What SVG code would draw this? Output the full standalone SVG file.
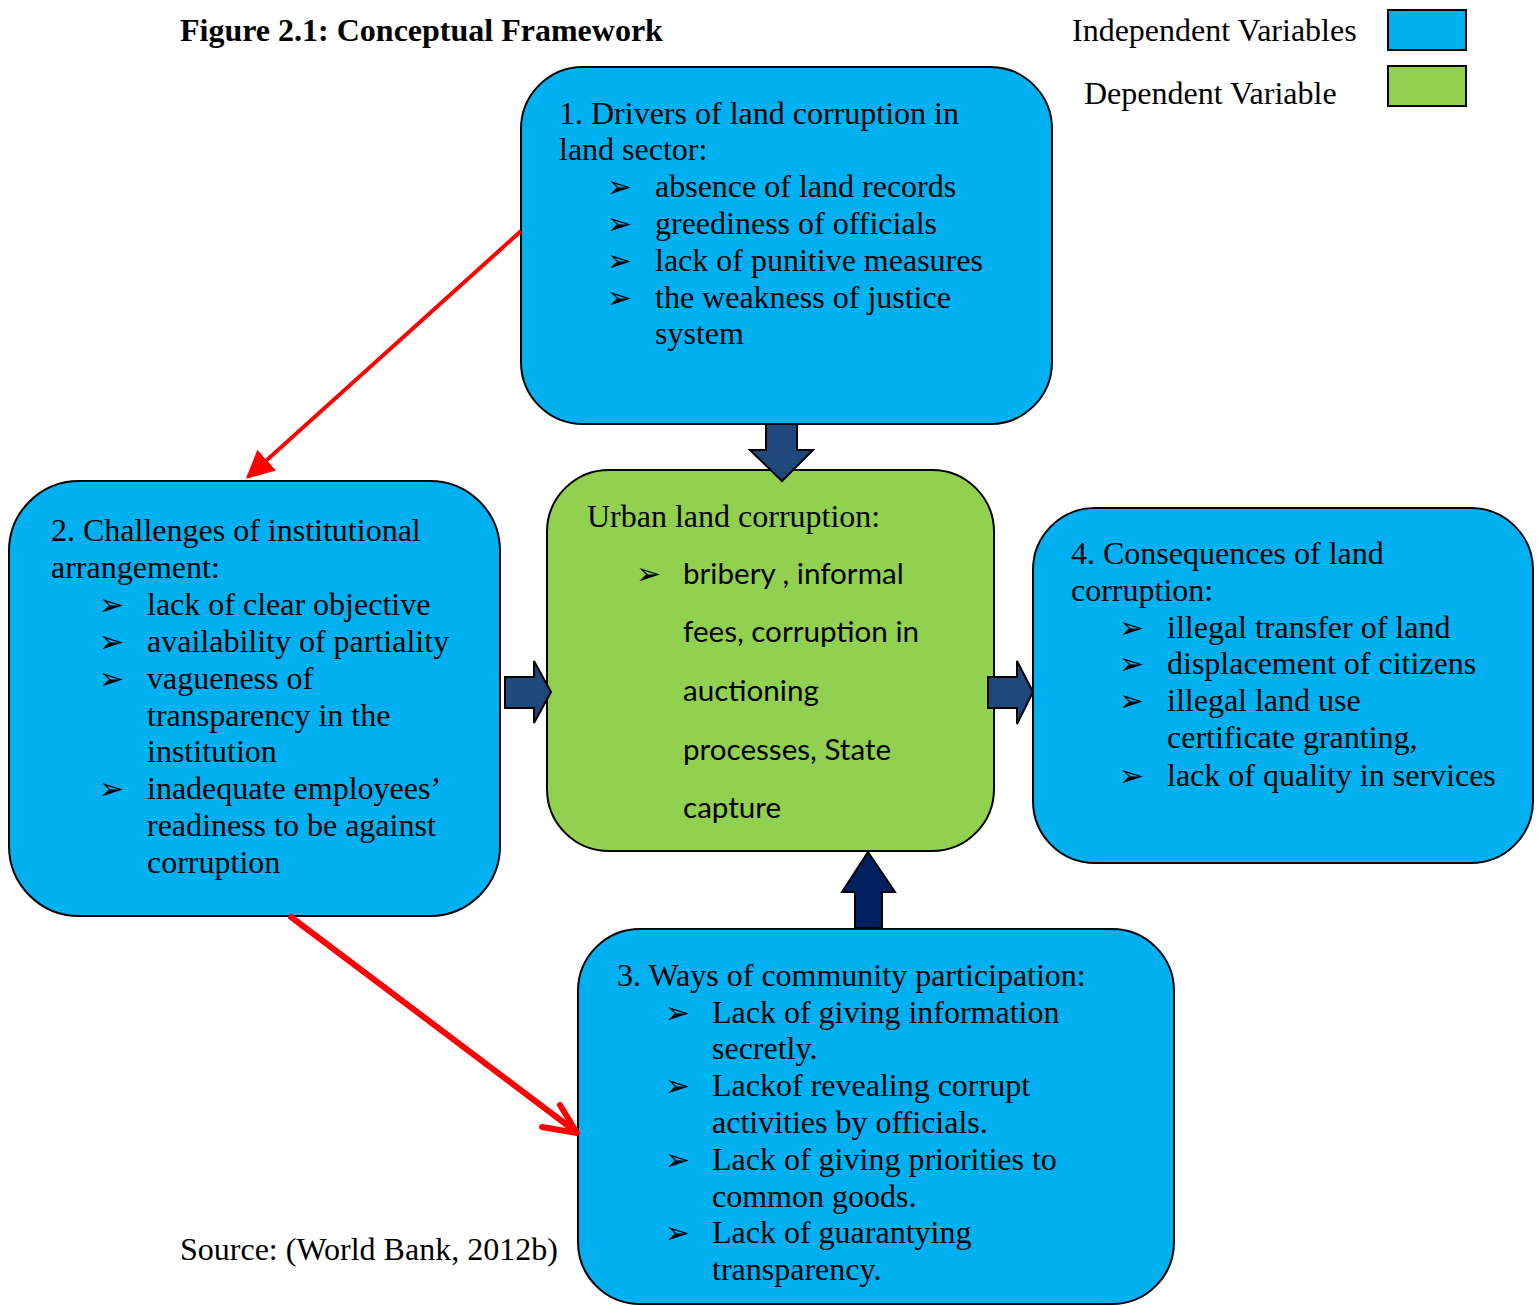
<svg xmlns="http://www.w3.org/2000/svg" width="1537" height="1306" viewBox="0 0 1537 1306">
<style>
.t{font-family:"Liberation Serif","Times New Roman",serif;font-size:32px;fill:#000}
.b{font-family:"DejaVu Sans",sans-serif;font-size:30px;fill:#000}
.c{font-family:Lato,"Open Sans",sans-serif;font-size:29.6px;fill:#000}
.blue{fill:#00B0F0;stroke:#000;stroke-width:2}
.green{fill:#92D050;stroke:#000;stroke-width:2}
</style>
<defs>
<marker id="tri" viewBox="0 0 10 10" refX="9" refY="5" markerWidth="7" markerHeight="7" markerUnits="strokeWidth" orient="auto">
<path d="M0,0 L10,5 L0,10 z" fill="#FF0000"/>
</marker>
</defs>
<rect width="1537" height="1306" fill="#fff"/>
<text class="t" x="180" y="41" font-weight="bold">Figure 2.1: Conceptual Framework</text>
<g id="legend">
<text class="t" x="1072" y="41">Independent Variables</text>
<rect class="blue" x="1388" y="10" width="78" height="40"/>
<text class="t" x="1084" y="104">Dependent Variable</text>
<rect class="green" x="1388" y="66" width="78" height="40"/>
</g>
<g id="node1">
<rect class="blue" x="521" y="67" width="531" height="357" rx="62"/>
<text class="t" x="559" y="124">1. Drivers of land corruption in</text>
<text class="t" x="559" y="160">land sector:</text>
<text class="b" x="607" y="197">➢</text><text class="t" x="655" y="197">absence of land records</text>
<text class="b" x="607" y="234">➢</text><text class="t" x="655" y="234">greediness of officials</text>
<text class="b" x="607" y="271">➢</text><text class="t" x="655" y="271">lack of punitive measures</text>
<text class="b" x="607" y="308">➢</text><text class="t" x="655" y="308">the weakness of justice</text>
<text class="t" x="655" y="344">system</text>
</g>
<g id="node2">
<rect class="blue" x="9" y="481" width="491" height="435" rx="70"/>
<text class="t" x="51" y="541">2. Challenges of institutional</text>
<text class="t" x="51" y="578">arrangement:</text>
<text class="b" x="99" y="615">➢</text><text class="t" x="147" y="615">lack of clear objective</text>
<text class="b" x="99" y="652">➢</text><text class="t" x="147" y="652">availability of partiality</text>
<text class="b" x="99" y="689">➢</text><text class="t" x="147" y="689">vagueness of</text>
<text class="t" x="147" y="726">transparency in the</text>
<text class="t" x="147" y="762">institution</text>
<text class="b" x="99" y="799">➢</text><text class="t" x="147" y="799">inadequate employees’</text>
<text class="t" x="147" y="836">readiness to be against</text>
<text class="t" x="147" y="873">corruption</text>
</g>
<g id="node0">
<rect class="green" x="547" y="470" width="447" height="381" rx="62"/>
<text class="t" x="587" y="527">Urban land corruption:</text>
<text class="b" x="636" y="584">➢</text>
<text class="c" x="683" y="584">bribery , informal</text>
<text class="c" x="683" y="642">fees, corruption in</text>
<text class="c" x="683" y="701">auctioning</text>
<text class="c" x="683" y="760">processes, State</text>
<text class="c" x="683" y="818">capture</text>
</g>
<g id="node4">
<rect class="blue" x="1033" y="508" width="500" height="355" rx="62"/>
<text class="t" x="1071" y="564">4. Consequences of land</text>
<text class="t" x="1071" y="601">corruption:</text>
<text class="b" x="1119" y="638">➢</text><text class="t" x="1167" y="638">illegal transfer of land</text>
<text class="b" x="1119" y="674">➢</text><text class="t" x="1167" y="674">displacement of citizens</text>
<text class="b" x="1119" y="711">➢</text><text class="t" x="1167" y="711">illegal land use</text>
<text class="t" x="1167" y="748">certificate granting,</text>
<text class="b" x="1119" y="786">➢</text><text class="t" x="1167" y="786">lack of quality in services</text>
</g>
<g id="node3">
<rect class="blue" x="578" y="929" width="596" height="375" rx="62"/>
<text class="t" x="617" y="986">3. Ways of community participation:</text>
<text class="b" x="665" y="1023">➢</text><text class="t" x="712" y="1023">Lack of giving information</text>
<text class="t" x="712" y="1059">secretly.</text>
<text class="b" x="665" y="1096">➢</text><text class="t" x="712" y="1096">Lackof revealing corrupt</text>
<text class="t" x="712" y="1133">activities by officials.</text>
<text class="b" x="665" y="1170">➢</text><text class="t" x="712" y="1170">Lack of giving priorities to</text>
<text class="t" x="712" y="1207">common goods.</text>
<text class="b" x="665" y="1243">➢</text><text class="t" x="712" y="1243">Lack of guarantying</text>
<text class="t" x="712" y="1280">transparency.</text>
</g>
<text class="t" x="180" y="1260">Source: (World Bank, 2012b)</text>
<g id="connectors">
<line x1="521" y1="231" x2="248" y2="477" stroke="#FF0000" stroke-width="4" marker-end="url(#tri)"/>
<line x1="291" y1="917" x2="575" y2="1131" stroke="#FF0000" stroke-width="6" stroke-linecap="round"/>
<polyline points="560,1105 577,1133 542,1127" fill="none" stroke="#FF0000" stroke-width="6" stroke-linecap="round" stroke-linejoin="round"/>
<polygon points="766,424 797,424 797,450 813,450 782,481 750,450 766,450" fill="#1F497D" stroke="#000" stroke-width="2"/>
<polygon points="505,677 534,677 534,661 551,692 534,723 534,708 505,708" fill="#1F497D" stroke="#000" stroke-width="2"/>
<polygon points="988,677 1017,677 1017,661 1033,692 1017,724 1017,708 988,708" fill="#1F497D" stroke="#000" stroke-width="2"/>
<polygon points="855,928 882,928 882,892 895,892 868,852 842,892 855,892" fill="#002060" stroke="#000" stroke-width="2"/>
</g>
</svg>
